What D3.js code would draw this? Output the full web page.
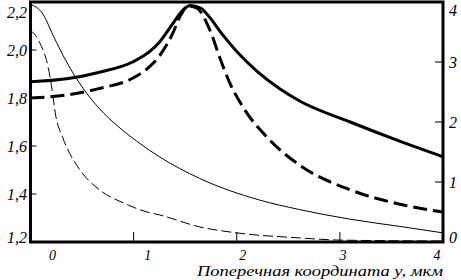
<!DOCTYPE html>
<html>
<head>
  <meta charset="utf-8">
  <script src="https://cdn.jsdelivr.net/npm/d3@7"></script>
  <style>
    body { margin: 0; background: #fff; }
    svg text { font-family: 'Liberation Serif', 'Times New Roman', Times, 'DejaVu Serif', serif; font-style: italic; }
  </style>
</head>
<body>
  <svg width="461" height="280" id="mainsvg"></svg>
  <script>
    // values
    const xTicks = [0, 1, 2, 3, 4];
    const leftTicks = [1.2, 1.4, 1.6, 1.8, 2.0, 2.2];
    const rightTicks = [0, 1, 2, 3, 4];
    const xTitle = 'Поперечная координата y, мкм';

    // thick curves, right axis
    const thickSolidX = [0, 0.35, 0.67, 0.99, 1.16, 1.25, 1.38, 1.48, 1.55, 1.65, 1.71, 1.87, 2.03, 2.2, 2.42, 2.61, 3.1, 3.58, 4.0];
    const thickSolidY = [2.67, 2.72, 2.83, 3.0, 3.18, 3.33, 3.64, 3.87, 3.94, 3.9, 3.8, 3.44, 3.12, 2.84, 2.55, 2.35, 2.0, 1.68, 1.42];
    const thickDashX = [0, 0.35, 0.67, 0.99, 1.16, 1.25, 1.38, 1.45, 1.53, 1.61, 1.74, 1.84, 1.93, 2.06, 2.32, 2.61, 3.1, 3.58, 4.0];
    const thickDashY = [2.4, 2.45, 2.56, 2.73, 2.93, 3.1, 3.48, 3.76, 3.93, 3.9, 3.53, 3.05, 2.66, 2.25, 1.7, 1.28, 0.87, 0.63, 0.5];
    // thin curves, left axis
    const thinSolidX = [0, 0.12, 0.22, 0.35, 0.51, 0.67, 0.84, 1.03, 1.25, 1.64, 2.22, 2.61, 3.1, 3.58, 4.0];
    const thinSolidY = [2.19, 2.15, 2.06, 1.95, 1.84, 1.755, 1.685, 1.62, 1.555, 1.465, 1.375, 1.335, 1.295, 1.265, 1.238];
    const thinDashX = [0, 0.09, 0.17, 0.21, 0.24, 0.31, 0.35, 0.48, 0.67, 0.9, 1.13, 1.25, 1.64, 2.0, 2.61, 3.0, 4.0];
    const thinDashY = [2.083, 2.03, 1.93, 1.833, 1.738, 1.638, 1.596, 1.5, 1.417, 1.363, 1.325, 1.313, 1.263, 1.238, 1.217, 1.208, 1.204];

    const svg = d3.select('svg');
    const margin = { top: 2, right: 18, bottom: 38, left: 30.5 };
    const width = +svg.attr('width');
    const height = +svg.attr('height');

    const x = d3.scaleLinear().domain([0, 4]).range([margin.left, width - margin.right]);
    const yL = d3.scaleLinear().domain([1.2, 2.2]).range([height - margin.bottom, margin.top]);
    const yR = d3.scaleLinear().domain([0, 4]).range([height - margin.bottom, margin.top]);

    const zip = (xs, ys) => xs.map((d, i) => [d, ys[i]]);

    const lineL = d3.line().x(d => x(d[0])).y(d => yL(d[1])).curve(d3.curveMonotoneX);
    const lineR = d3.line().x(d => x(d[0])).y(d => yR(d[1])).curve(d3.curveMonotoneX);

    // curves
    svg.append('path').datum(zip(thinSolidX, thinSolidY))
      .attr('d', lineL).attr('fill', 'none').attr('stroke', '#000').attr('stroke-width', 1);
    svg.append('path').datum(zip(thinDashX, thinDashY))
      .attr('d', lineL).attr('fill', 'none').attr('stroke', '#000').attr('stroke-width', 1)
      .attr('stroke-dasharray', '10,4');
    svg.append('path').datum(zip(thickSolidX, thickSolidY))
      .attr('d', lineR).attr('fill', 'none').attr('stroke', '#000').attr('stroke-width', 3);
    svg.append('path').datum(zip(thickDashX, thickDashY))
      .attr('d', lineR).attr('fill', 'none').attr('stroke', '#000').attr('stroke-width', 3)
      .attr('stroke-dasharray', '14,6');

    // frame
    const x0 = x(0), x1 = x(4), yb = yL(1.2), yt = yL(2.2);
    svg.append('rect')
      .attr('x', x0).attr('y', yt).attr('width', x1 - x0).attr('height', yb - yt)
      .attr('fill', 'none').attr('stroke', '#000').attr('stroke-width', 3);

    // left ticks (inward)
    const gL = svg.append('g');
    gL.selectAll('line').data(leftTicks.slice(1, -1)).join('line')
      .attr('x1', x0).attr('x2', x0 + 6)
      .attr('y1', d => yL(d)).attr('y2', d => yL(d))
      .attr('stroke', '#000').attr('stroke-width', 1);
    gL.selectAll('text').data(leftTicks).join('text')
      .attr('x', 27)
      .attr('y', (d, i) => yL(d) + (i === 0 ? -5 : i === leftTicks.length - 1 ? 10 : 0))
      .attr('dy', '0.35em')
      .attr('text-anchor', 'end')
      .style('font-size', '16px')
      .text(d => d3.format('.1f')(d).replace('.', ','));

    // right ticks (inward)
    const gR = svg.append('g');
    gR.selectAll('line').data(rightTicks.slice(1, -1)).join('line')
      .attr('x1', x1 - 8).attr('x2', x1)
      .attr('y1', d => yR(d)).attr('y2', d => yR(d))
      .attr('stroke', '#000').attr('stroke-width', 1);
    gR.selectAll('text').data(rightTicks).join('text')
      .attr('x', x1 + 10)
      .attr('y', (d, i) => yR(d) + (i === 0 ? -5 : i === rightTicks.length - 1 ? 8 : 0))
      .attr('dy', '0.35em')
      .attr('text-anchor', 'middle')
      .style('font-size', '16px')
      .text(d => d);

    // bottom ticks (inward)
    const xNudge = [22, 14, 6, 3, -6];
    const gB = svg.append('g');
    gB.selectAll('line').data(xTicks.slice(1, -1)).join('line')
      .attr('x1', d => x(d)).attr('x2', d => x(d))
      .attr('y1', yb - 10).attr('y2', yb)
      .attr('stroke', '#000').attr('stroke-width', 1);
    gB.selectAll('text').data(xTicks).join('text')
      .attr('x', (d, i) => x(d) + xNudge[i])
      .attr('y', yb + 18)
      .attr('text-anchor', 'middle')
      .style('font-size', '14px')
      .text(d => d);

    svg.append('text')
      .attr('x', x1)
      .attr('y', 276)
      .attr('text-anchor', 'end')
      .attr('textLength', 246)
      .attr('lengthAdjust', 'spacingAndGlyphs')
      .style('font-size', '15px')
      .text(xTitle);
  </script>
</body>
</html>
